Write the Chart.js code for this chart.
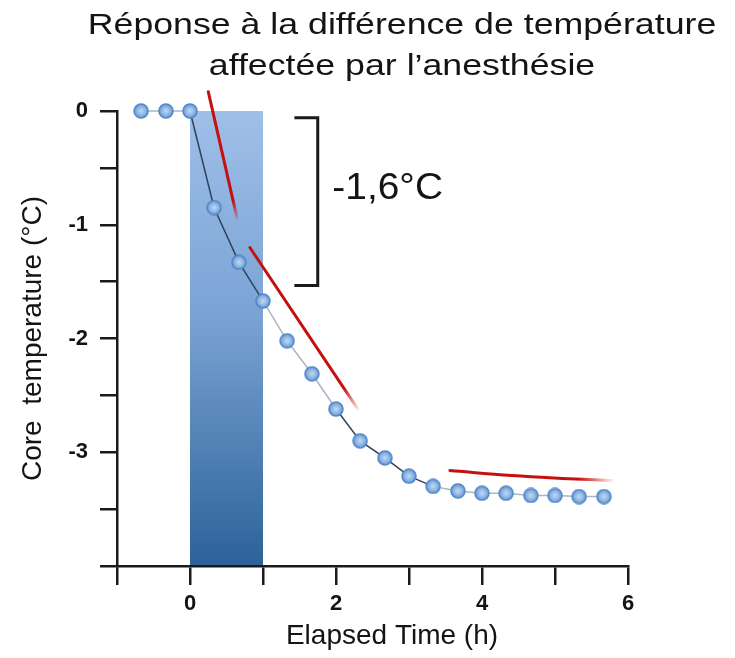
<!DOCTYPE html>
<html><head><meta charset="utf-8">
<script src="https://cdn.jsdelivr.net/npm/chart.js@4/dist/chart.umd.min.js"></script>
<style>html,body{margin:0;padding:0;background:#fff}#wrap{width:735px;height:658px;position:relative}</style>
</head><body><div id="wrap"><canvas id="c" width="735" height="658"></canvas></div>
<script>
// ---- text ----
const titleLines = ['Réponse à la différence de température', 'affectée par l’anesthésie'];
const xAxisTitle = 'Elapsed Time (h)';
const yAxisTitle = 'Core  temperature (°C)';
const dropLabel = '-1,6°C';

// ---- data ----
const elapsedHours = [-0.67, -0.33, 0, 0.33, 0.67, 1, 1.33, 1.67, 2, 2.33, 2.67, 3, 3.33, 3.67, 4, 4.33, 4.67, 5, 5.33, 5.67];
const coreTemp     = [0, 0, 0, -0.85, -1.33, -1.67, -2.02, -2.31, -2.62, -2.90, -3.05, -3.21, -3.30, -3.34, -3.36, -3.36, -3.38, -3.38, -3.39, -3.39];
const anesthesiaPeriod = [0, 1];          // hours (shaded band)
const tangentEarlyX = [0.25, 0.655];
const tangentEarlyY = [0.17, -0.97];
const tangentMidX = [0.82, 2.32];
const tangentMidY = [-1.20, -2.64];
const tangentLateX = [3.56, 4.41, 5.10, 5.82];
const tangentLateY = [-3.16, -3.205, -3.23, -3.25];
const bracketX = [1.43, 1.75, 1.75, 1.43];
const bracketY = [-0.06, -0.06, -1.535, -1.535];
const dropLabelPos = [1.95, -0.775];      // x (h), y (°C) of label baseline-left
const xTickLabels = [0, 2, 4, 6];
const yTickLabels = [0, -1, -2, -3];

const FONT = '"Liberation Sans", Arial, sans-serif';
const RED = 'rgb(198,16,16)';
const TXT = '#141414';

const pts = (xs, ys) => xs.map((x, i) => ({x, y: ys[i]}));

function makeSphere(d) {
  const c = document.createElement('canvas');
  c.width = c.height = d;
  const g = c.getContext('2d');
  const r = d / 2;
  const grad = g.createRadialGradient(r, r, 0.5, r, r, r);
  grad.addColorStop(0, '#bcd5f2');
  grad.addColorStop(0.5, '#8fb6e4');
  grad.addColorStop(1, '#5589cb');
  g.fillStyle = grad;
  g.beginPath(); g.arc(r, r, r - 1, 0, Math.PI * 2); g.fill();
  g.lineWidth = 1.5; g.strokeStyle = '#5287c8'; g.stroke();
  return c;
}
const sphere = makeSphere(16);

function fadeGradient(ctx, data, solid) {
  const ch = ctx.chart;
  if (!ch.chartArea) return RED;
  const xs = ch.scales.x, ys = ch.scales.y;
  const a = data[0], b = data[data.length - 1];
  const g = ch.ctx.createLinearGradient(xs.getPixelForValue(a.x), ys.getPixelForValue(a.y),
                                        xs.getPixelForValue(b.x), ys.getPixelForValue(b.y));
  g.addColorStop(0, RED); g.addColorStop(solid, RED); g.addColorStop(1, 'rgba(198,16,16,0)');
  return g;
}

const bandPlugin = {
  id: 'band',
  beforeDraw(chart) {
    const {ctx, scales: {x, y}} = chart;
    const x0 = x.getPixelForValue(anesthesiaPeriod[0]);
    const x1 = x.getPixelForValue(anesthesiaPeriod[1]);
    const yt = y.getPixelForValue(y.max);
    const yb = y.getPixelForValue(y.min);
    const g = ctx.createLinearGradient(0, yt, 0, yb);
    g.addColorStop(0, '#9fbfe8');
    g.addColorStop(0.45, '#7aa3d4');
    g.addColorStop(1, '#2c6299');
    ctx.save(); ctx.fillStyle = g; ctx.fillRect(x0, yt, x1 - x0, yb - yt); ctx.restore();
  },
  afterDatasetsDraw(chart) {
    const {ctx, scales: {x, y}} = chart;
    ctx.save();
    ctx.fillStyle = TXT;
    ctx.font = '36px ' + FONT;
    ctx.textAlign = 'left'; ctx.textBaseline = 'alphabetic';
    ctx.translate(x.getPixelForValue(dropLabelPos[0]), y.getPixelForValue(dropLabelPos[1]));
    ctx.scale(1.08, 1);
    ctx.fillText(dropLabel, 0, 0);
    ctx.restore();
  },
  afterDraw(chart) {
    const ctx = chart.ctx;
    ctx.save();
    ctx.fillStyle = TXT;
    ctx.textAlign = 'center'; ctx.textBaseline = 'alphabetic';
    // chart title (two lines)
    ctx.font = '30px ' + FONT;
    const base = [34, 75];
    titleLines.forEach((t, i) => {
      ctx.save(); ctx.translate(402, base[i]); ctx.scale(1.19, 1); ctx.fillText(t, 0, 0); ctx.restore();
    });
    // x-axis title
    ctx.font = '28px ' + FONT;
    ctx.fillText(xAxisTitle, 392, 644);
    ctx.restore();
  }
};

new Chart(document.getElementById('c'), {
  type: 'line',
  data: {
    datasets: [
      {
        label: 'Core temperature',
        data: pts(elapsedHours, coreTemp),
        borderWidth: 1.5,
        borderColor: '#a9b6c5',
        segment: {
          borderColor: s => {
            const x0 = s.p0.parsed.x;
            return ((x0 >= 0 && x0 < 0.9) || (x0 >= 1.9 && x0 < 3.2)) ? '#2f425c' : '#a9b6c5';
          }
        },
        pointStyle: sphere,
        pointRadius: 8,
        tension: 0,
        clip: false,
        order: 0
      },
      {
        label: 'tangent early', data: pts(tangentEarlyX, tangentEarlyY),
        borderColor: c => fadeGradient(c, pts(tangentEarlyX, tangentEarlyY), 0.84),
        borderWidth: 3, pointRadius: 0, tension: 0, clip: false, order: 1, borderCapStyle: 'round'
      },
      {
        label: 'tangent mid', data: pts(tangentMidX, tangentMidY),
        borderColor: c => fadeGradient(c, pts(tangentMidX, tangentMidY), 0.86),
        borderWidth: 3, pointRadius: 0, tension: 0, clip: false, order: 1, borderCapStyle: 'round'
      },
      {
        label: 'tangent late', data: pts(tangentLateX, tangentLateY),
        borderColor: c => fadeGradient(c, pts(tangentLateX, tangentLateY), 0.78),
        borderWidth: 3, pointRadius: 0, tension: 0.4, clip: false, order: 1, borderCapStyle: 'round'
      },
      {
        label: 'bracket', data: pts(bracketX, bracketY),
        borderColor: '#1a1a1a', borderWidth: 3, pointRadius: 0, tension: 0, clip: false, order: 1,
        borderJoinStyle: 'miter'
      }
    ]
  },
  options: {
    responsive: false,
    animation: false,
    events: [],
    layout: {padding: {top: 111, right: 107, left: 0, bottom: 0}},
    plugins: {legend: {display: false}, tooltip: {enabled: false}, title: {display: false}},
    scales: {
      x: {
        type: 'linear', min: -1, max: 6,
        ticks: {
          stepSize: 1, autoSkip: false, maxRotation: 0, padding: 6, color: TXT,
          font: {family: FONT, size: 22, weight: 'bold'},
          callback: v => xTickLabels.includes(v) ? String(v) : ''
        },
        grid: {drawOnChartArea: false, drawTicks: true, tickLength: 19, color: '#1a1a1a', lineWidth: 2.5},
        border: {display: true, color: '#1a1a1a', width: 2.5},
        title: {display: false, text: xAxisTitle},
        afterFit: s => { s.height = 92; }
      },
      y: {
        type: 'linear', min: -4, max: 0,
        ticks: {
          stepSize: 0.5, autoSkip: false, padding: 12, color: TXT,
          font: {family: FONT, size: 22, weight: 'bold'},
          callback: v => yTickLabels.includes(v) ? String(v) : ''
        },
        grid: {drawOnChartArea: false, drawTicks: true, tickLength: 17, color: '#1a1a1a', lineWidth: 2.5},
        border: {display: true, color: '#1a1a1a', width: 2.5},
        title: {display: true, text: yAxisTitle, color: TXT, font: {family: FONT, size: 28}, padding: {top: 16, bottom: 0}},
        afterFit: s => { s.width = 117; }
      }
    }
  },
  plugins: [bandPlugin]
});
</script>
</body></html>
